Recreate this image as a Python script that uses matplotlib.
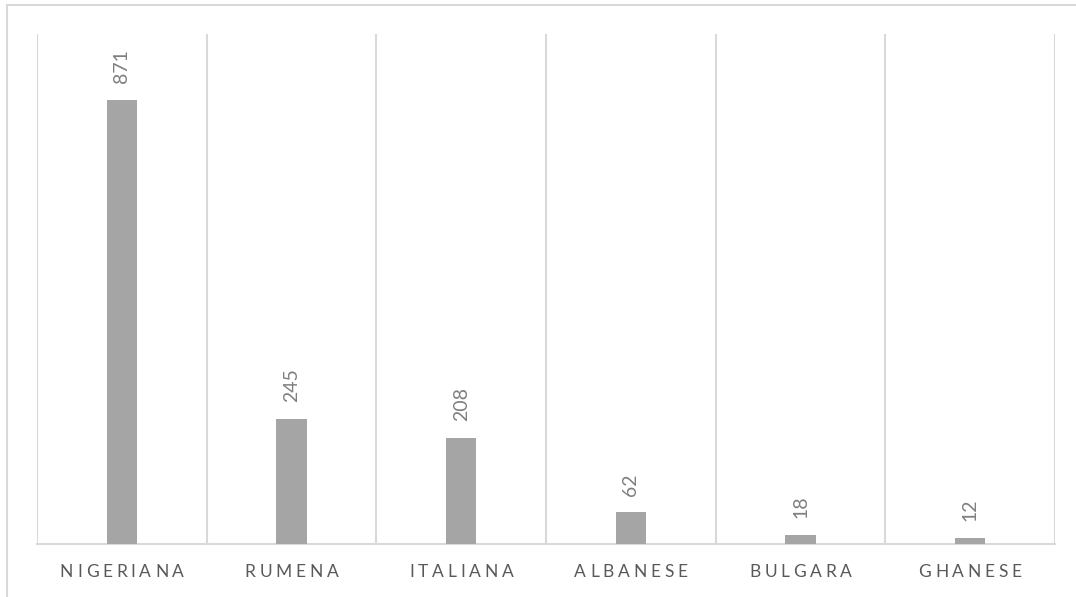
import matplotlib
matplotlib.use('Agg')
import matplotlib.pyplot as plt
import numpy as np

categories = ['NIGERIANA', 'RUMENA', 'ITALIANA', 'ALBANESE', 'BULGARA', 'GHANESE']
values = [871, 245, 208, 62, 18, 12]

plt.rcParams['font.family'] = ['Lato', 'DejaVu Sans']

fig = plt.figure(figsize=(10.76, 5.97), dpi=100)
ax = fig.add_axes([37 / 1076, 53 / 597, 1018 / 1076, 510 / 597])

x = np.arange(len(categories))
ax.bar(x, values, width=0.18, color='#a5a5a5', zorder=3)

for xi, v in zip(x, values):
    ax.annotate(str(v), (xi, v), xytext=(0, 12), textcoords='offset points',
                rotation=90, ha='center', va='bottom', fontsize=14, color='#7f7f7f')

ax.set_xlim(-0.5, len(categories) - 0.5)
ax.set_ylim(0, 1000)
ax.set_yticks([])
ax.set_xticks([])

# category labels with letter spacing, drawn char by char
renderer = fig.canvas.get_renderer()
track = 3.8  # px between letters
for xi, lab in zip(x, categories):
    widths = []
    for ch in lab:
        t = ax.text(0, 0, ch, fontsize=12.5)
        widths.append(t.get_window_extent(renderer).width)
        t.remove()
    total = sum(widths) + track * (len(lab) - 1)
    cx = ax.transData.transform((xi, 0))[0]
    pos = cx - total / 2
    for ch, w in zip(lab, widths):
        px = (pos + w / 2 - cx) * 72 / fig.dpi
        ax.annotate(ch, (xi, 0), xytext=(px, -20), textcoords='offset points',
                    ha='center', va='center', fontsize=12.5, color='#595959',
                    annotation_clip=False)
        pos += w + track

# vertical separators between categories
for b in np.arange(-0.5, len(categories), 1.0):
    ax.axvline(b, color='#d9d9d9', lw=1.5, zorder=1)

for s in ['top', 'right', 'left']:
    ax.spines[s].set_visible(False)
ax.spines['bottom'].set_color('#d9d9d9')
ax.spines['bottom'].set_linewidth(1.5)

# outer chart frame (only top and left are visible in the crop)
fig.add_artist(plt.Line2D([7 / 1076, 1], [1 - 4.5 / 597, 1 - 4.5 / 597], color='#d9d9d9', lw=1.5))
fig.add_artist(plt.Line2D([7 / 1076, 7 / 1076], [0, 1 - 4.5 / 597], color='#d9d9d9', lw=1.5))

fig.savefig('out.png', dpi=100)
